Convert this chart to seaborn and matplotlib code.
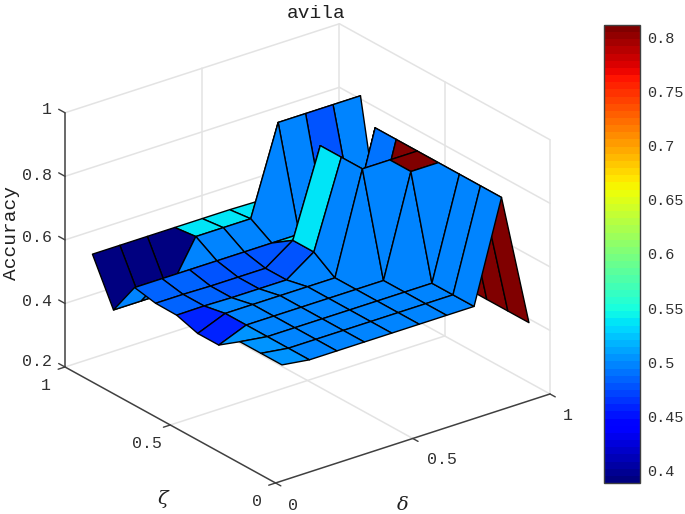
import numpy as np
import seaborn as sns
import matplotlib
matplotlib.use("Agg")
import matplotlib.pyplot as plt
from matplotlib.cm import ScalarMappable
from matplotlib.colors import Normalize

delta_vals = [0.1, 0.2, 0.3, 0.4, 0.5, 0.6, 0.7, 0.8, 0.9, 1.0]
zeta_vals = [0.1, 0.2, 0.3, 0.4, 0.5, 0.6, 0.7, 0.8, 0.9, 1.0]

# one row per zeta, one column per delta
acc_z01 = [0.507, 0.495, 0.495, 0.495, 0.495, 0.495, 0.495, 0.495, 0.81, 0.388]
acc_z02 = [0.507, 0.495, 0.495, 0.495, 0.495, 0.495, 0.495, 0.495, 0.81, 0.388]
acc_z03 = [0.507, 0.495, 0.495, 0.495, 0.495, 0.495, 0.495, 0.495, 0.81, 0.388]
acc_z04 = [0.46, 0.495, 0.495, 0.495, 0.495, 0.495, 0.495, 0.81, 0.81, 0.388]
acc_z05 = [0.46, 0.495, 0.495, 0.495, 0.495, 0.495, 0.81, 0.81, 0.81, 0.388]
acc_z06 = [0.481, 0.482, 0.48, 0.48, 0.48, 0.54, 0.81, 0.49, 0.81, 0.388]
acc_z07 = [0.482, 0.482, 0.48, 0.48, 0.48, 0.54, 0.81, 0.49, 0.81, 0.388]
acc_z08 = [0.495, 0.495, 0.495, 0.495, 0.495, 0.495, 0.495, 0.478, 0.495, 0.388]
acc_z09 = [0.388, 0.388, 0.388, 0.535, 0.535, 0.535, 0.81, 0.81, 0.81, 0.81]
acc_z10 = [0.527, 0.527, 0.527, 0.527, 0.527, 0.527, 0.525, 0.49, 0.49, 0.49]

color_min = 0.388
color_max = 0.812
cbar_ticks = [0.4, 0.45, 0.5, 0.55, 0.6, 0.65, 0.7, 0.75, 0.8]
cbar_labels = ["0.4", "0.45", "0.5", "0.55", "0.6", "0.65", "0.7", "0.75", "0.8"]
z_ticks = [0.2, 0.4, 0.6, 0.8, 1.0]
z_labels = ["0.2", "0.4", "0.6", "0.8", "1"]

sns.set_theme(style="white")
plt.rcParams["font.family"] = ["Liberation Mono", "DejaVu Sans Mono"]

W, H = 685, 514
GRID = "#e3e3e3"
AXIS = "#404040"
TEXT = "#303030"

accuracy = np.array([acc_z01, acc_z02, acc_z03, acc_z04, acc_z05,
                     acc_z06, acc_z07, acc_z08, acc_z09, acc_z10])
X, Y = np.meshgrid(delta_vals, zeta_vals)

jet = plt.get_cmap("jet", 64)
norm = Normalize(color_min, color_max)

fig = plt.figure(figsize=(W / 100, H / 100), dpi=100, facecolor="white")
s = 547.43
ax = fig.add_axes([26.39 / W, -20.48 / H, s / W, s / H], projection="3d", proj_type="ortho")
ax.set_box_aspect((1, 1, 0.811))
ax.view_init(elev=25, azim=-127.5)
ax.set_xlim(0, 1)
ax.set_ylim(0, 1)
ax.set_zlim(0.2, 1)
ax.set_axis_off()
ax.computed_zorder = False


def grid_line(xs, ys, zs):
    ax.plot(xs, ys, zs, color=GRID, lw=1.1, zorder=1)


# walls and floor
for z in z_ticks:
    grid_line([0, 1], [1, 1], [z, z])
    grid_line([1, 1], [0, 1], [z, z])
grid_line([0.5, 0.5], [1, 1], [0.2, 1])
grid_line([1, 1], [0.5, 0.5], [0.2, 1])
grid_line([1, 1], [1, 1], [0.2, 1])
grid_line([1, 1], [0, 0], [0.2, 1])
grid_line([0.5, 0.5], [0, 1], [0.2, 0.2])
grid_line([0, 1], [0.5, 0.5], [0.2, 0.2])

ax.plot_surface(X, Y, accuracy, facecolors=jet(norm(accuracy)), shade=False,
                rstride=1, cstride=1, edgecolor="black", linewidth=1.0, zorder=2)

# axis lines and ticks
ax.plot([0, 1], [0, 0], [0.2, 0.2], color=AXIS, lw=1.1, zorder=3)
ax.plot([0, 0], [0, 1], [0.2, 0.2], color=AXIS, lw=1.1, zorder=3)
ax.plot([0, 0], [1, 1], [0.2, 1], color=AXIS, lw=1.1, zorder=3)
for t in [0, 0.5, 1]:
    ax.plot([t, t], [0, -0.025], [0.2, 0.2], color=AXIS, lw=1, zorder=3)
    ax.plot([0, -0.025], [t, t], [0.2, 0.2], color=AXIS, lw=1, zorder=3)
for z in z_ticks:
    ax.plot([0, 0], [1, 1.03], [z, z], color=AXIS, lw=1, zorder=3)


def put(px, py, txt, **kw):
    fig.text(px / W, 1 - py / H, txt, ha="center", va="center", **kw)


put(316, 13, "avila", fontsize=14, color="#202020")
put(12, 233, "Accuracy", fontsize=14, color="#202020", rotation=90)
put(163, 499, "\u03b6", fontsize=14, family="DejaVu Serif", style="italic", color="#202020")
put(403, 505, "\u03b4", fontsize=14, family="DejaVu Serif", style="italic", color="#202020")

for lab, (px, py) in zip(["1", "0.5", "0"], [(46, 386), (147, 444), (257, 502)]):
    put(px, py, lab, fontsize=12, color=TEXT)
for lab, (px, py) in zip(["0", "0.5", "1"], [(293, 505), (442, 460), (568, 415)]):
    put(px, py, lab, fontsize=12, color=TEXT)
for lab, py in zip(z_labels, [362, 302, 238, 175, 110]):
    fig.text(52 / W, 1 - py / H, lab, ha="right", va="center", fontsize=12, color=TEXT)

cax = fig.add_axes([604 / W, 1 - 483 / H, 36 / W, 458 / H])
cbar = fig.colorbar(ScalarMappable(norm=norm, cmap=jet), cax=cax)
cbar.set_ticks(cbar_ticks, labels=cbar_labels)
cbar.ax.tick_params(direction="in", length=4, width=0.8, color=AXIS, labelsize=11,
                    labelcolor=TEXT, pad=5, right=True)
cbar.outline.set_edgecolor(AXIS)
cbar.outline.set_linewidth(1)

fig.savefig("out.png", dpi=100)
